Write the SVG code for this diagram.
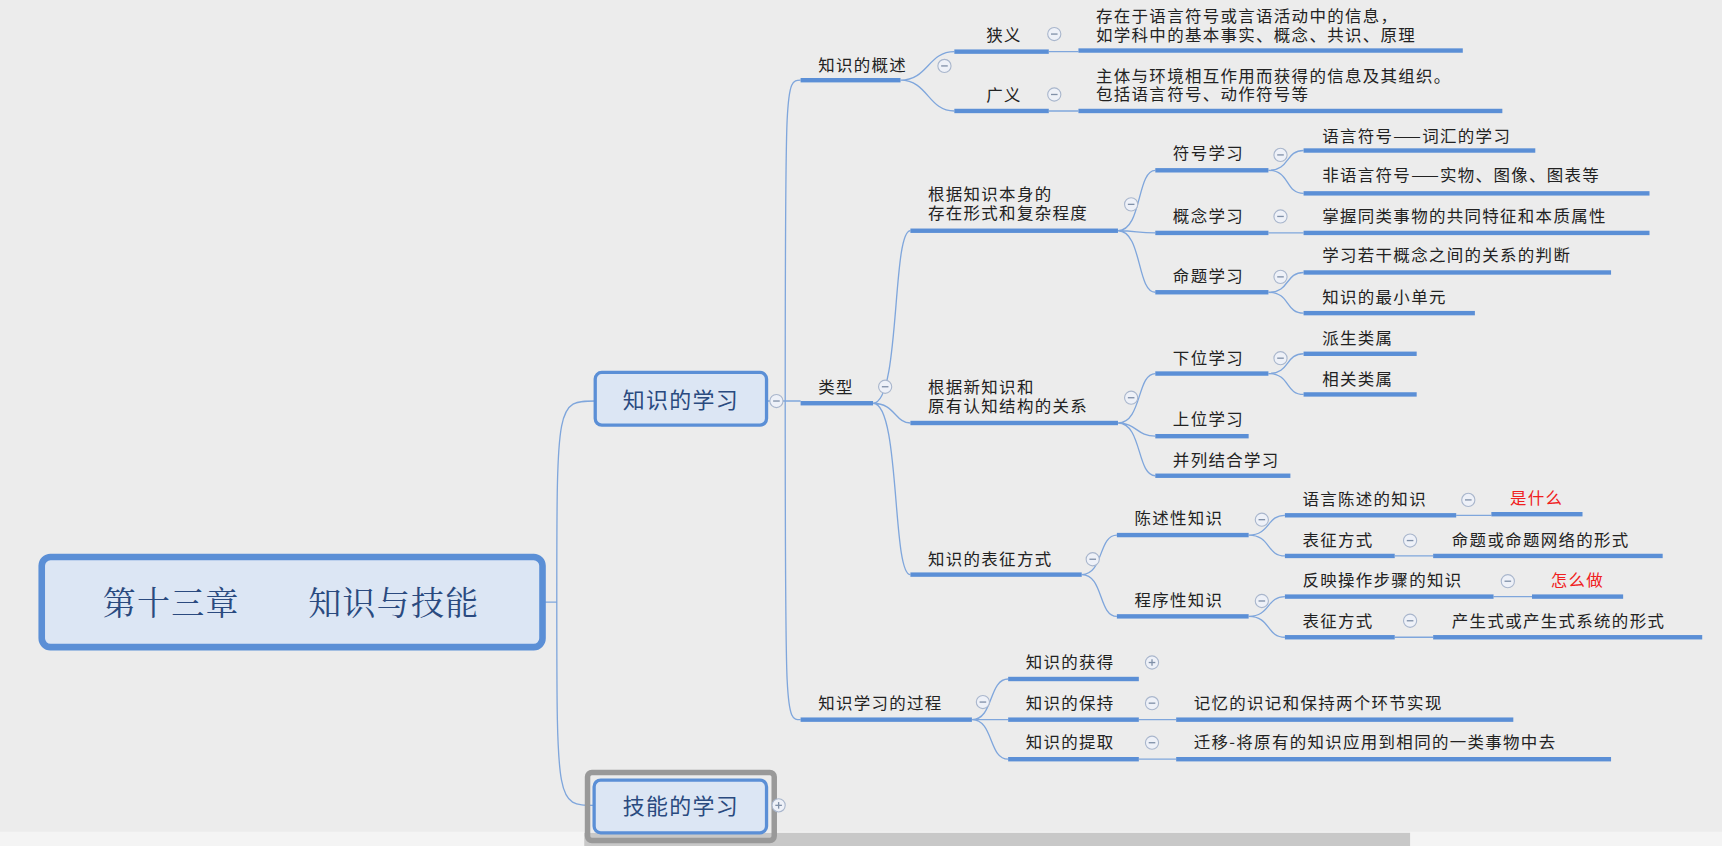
<svg xmlns="http://www.w3.org/2000/svg" width="1722" height="846" viewBox="0 0 1722 846">
<style>
text{font-family:"Noto Sans CJK SC","Liberation Sans",sans-serif;font-size:15px;fill:#222;letter-spacing:1.2px}
.u{fill:#5b8fd6}
.c{fill:none;stroke:#7fa6dc;stroke-width:1.2}
.red{fill:#f02020}
.btn circle{fill:#eef1f8;stroke:#a9b6cc;stroke-width:1}
.btn line{stroke:#8090a8;stroke-width:1.2}
.box{fill:#dce6f4;stroke:#5b8fd6}
.bt{font-size:20px;fill:#2a4a7f;text-anchor:middle}
</style>
<defs>
<g id="minus" class="btn"><circle r="6"/><line x1="-3" x2="3" y1="0" y2="0"/></g>
<g id="plus" class="btn"><circle r="6"/><line x1="-3" x2="3" y1="0" y2="0"/><line x1="0" x2="0" y1="-3" y2="3"/></g>
</defs>
<rect width="1722" height="846" fill="#ececec"/>
<g transform="scale(1.0982,1.0987)">
<rect x="0" y="757" width="1568" height="13" fill="#f4f4f4"/>
<rect x="532" y="758" width="752" height="12" fill="#c8c8c8"/>
<g id="connectors">
<path class="c" d="M494,548 H507 M507,548 C507,365 507,365 542,365 M507,548 C507,733 507,733 541,733"/>
<path class="c" d="M698,365 H715 M715,365 C715,73 715,73 729,73 M715,365 H729 M715,365 C715,655 715,655 729,655"/>
<path class="c" d="M820,73 C845,73 845,47 869,47 M820,73 C845,73 845,101 869,101 M955,47 H982 M955,101 H982"/>
<path class="c" d="M795,367 C820,367 812,210 829,210 M795,367 C815,367 815,385 829,385 M795,367 C820,367 812,523 829,523"/>
<path class="c" d="M1018,210 C1040,210 1035,155 1052,155 M1018,210 C1035,210 1035,212 1052,212 M1018,210 C1040,210 1035,266 1052,266"/>
<path class="c" d="M1155,155 C1175,155 1170,137 1187,137 M1155,155 C1175,155 1170,176 1187,176 M1155,212 H1187 M1155,266 C1175,266 1170,248 1187,248 M1155,266 C1175,266 1170,285 1187,285"/>
<path class="c" d="M1018,385 C1040,385 1035,340 1052,340 M1018,385 C1035,385 1035,397 1052,397 M1018,385 C1040,385 1035,433 1052,433"/>
<path class="c" d="M1155,340 C1175,340 1170,322 1187,322 M1155,340 C1175,340 1170,359 1187,359"/>
<path class="c" d="M985,523 C1005,523 1000,487 1017,487 M985,523 C1005,523 1000,561 1017,561"/>
<path class="c" d="M1137,487 C1157,487 1153,469 1170,469 M1137,487 C1157,487 1153,506 1170,506 M1326,469 H1358 M1270,506 H1305"/>
<path class="c" d="M1137,561 C1157,561 1153,543 1170,543 M1137,561 C1157,561 1153,580 1170,580 M1360,543 H1395 M1270,580 H1305"/>
<path class="c" d="M885,655 C905,655 900,618 918,618 M885,655 H918 M885,655 C905,655 900,691 918,691 M1037,655 H1071 M1037,691 H1071"/>
</g>
<g id="root"><rect class="box" x="38" y="507" width="456" height="82" rx="8" stroke-width="6"/><text x="265" y="560" style="font-size:30px;fill:#2a4a7f;text-anchor:middle;font-family:'Noto Serif CJK SC','Noto Sans CJK SC',serif">第十三章　　知识与技能</text></g>
<g id="zsdxx"><rect class="box" x="542" y="339" width="156" height="48" rx="6" stroke-width="3"/><text class="bt" x="620" y="371">知识的学习</text><use href="#minus" x="707" y="365"/></g>
<g id="jndxx"><rect x="535" y="703" width="170" height="62" rx="4" fill="none" stroke="#999" stroke-width="5"/><rect class="box" x="541" y="710" width="157" height="48" rx="6" stroke-width="3"/><text class="bt" x="620" y="741">技能的学习</text><use href="#plus" x="709" y="733"/></g>
<g id="gs"><rect class="u" x="729" y="71" width="91" height="4"/><text x="745" y="65">知识的概述</text><use href="#minus" x="860" y="60"/></g>
<g id="xy"><rect class="u" x="869" y="45" width="86" height="4"/><text x="898" y="37">狭义</text><use href="#minus" x="960" y="31"/></g>
<g id="xyd"><rect class="u" x="982" y="44" width="350" height="4"/><text x="998" y="20">存在于语言符号或言语活动中的信息，</text><text x="998" y="37">如学科中的基本事实、概念、共识、原理</text></g>
<g id="gy"><rect class="u" x="869" y="99" width="86" height="4"/><text x="898" y="92">广义</text><use href="#minus" x="960" y="86"/></g>
<g id="gyd"><rect class="u" x="982" y="99" width="386" height="4"/><text x="998" y="75">主体与环境相互作用而获得的信息及其组织。</text><text x="998" y="91">包括语言符号、动作符号等</text></g>
<g id="lx"><rect class="u" x="729" y="365" width="66" height="4"/><text x="745" y="358">类型</text><use href="#minus" x="806" y="352"/></g>
<g id="gj1"><rect class="u" x="829" y="208" width="189" height="4"/><text x="845" y="182">根据知识本身的</text><text x="845" y="199">存在形式和复杂程度</text><use href="#minus" x="1030" y="186"/></g>
<g id="fhxx"><rect class="u" x="1052" y="153" width="103" height="4"/><text x="1068" y="145">符号学习</text><use href="#minus" x="1166" y="141"/></g>
<g id="fh1"><rect class="u" x="1187" y="135" width="211" height="4"/><text x="1204" y="129">语言符号——词汇的学习</text></g>
<g id="fh2"><rect class="u" x="1187" y="174" width="315" height="4"/><text x="1204" y="165">非语言符号——实物、图像、图表等</text></g>
<g id="gnxx"><rect class="u" x="1052" y="210" width="103" height="4"/><text x="1068" y="202">概念学习</text><use href="#minus" x="1166" y="197"/></g>
<g id="gn1"><rect class="u" x="1187" y="210" width="315" height="4"/><text x="1204" y="202">掌握同类事物的共同特征和本质属性</text></g>
<g id="mtxx"><rect class="u" x="1052" y="264" width="103" height="4"/><text x="1068" y="257">命题学习</text><use href="#minus" x="1166" y="252"/></g>
<g id="mt1"><rect class="u" x="1187" y="246" width="280" height="4"/><text x="1204" y="238">学习若干概念之间的关系的判断</text></g>
<g id="mt2"><rect class="u" x="1187" y="283" width="156" height="4"/><text x="1204" y="276">知识的最小单元</text></g>
<g id="gj2"><rect class="u" x="829" y="383" width="189" height="4"/><text x="845" y="358">根据新知识和</text><text x="845" y="375">原有认知结构的关系</text><use href="#minus" x="1030" y="362"/></g>
<g id="xw"><rect class="u" x="1052" y="338" width="103" height="4"/><text x="1068" y="331">下位学习</text><use href="#minus" x="1166" y="326"/></g>
<g id="ps"><rect class="u" x="1187" y="320" width="103" height="4"/><text x="1204" y="313">派生类属</text></g>
<g id="xg"><rect class="u" x="1187" y="357" width="103" height="4"/><text x="1204" y="350">相关类属</text></g>
<g id="sw"><rect class="u" x="1052" y="395" width="85" height="4"/><text x="1068" y="387">上位学习</text></g>
<g id="bl"><rect class="u" x="1052" y="431" width="123" height="4"/><text x="1068" y="424">并列结合学习</text></g>
<g id="bz"><rect class="u" x="829" y="521" width="156" height="4"/><text x="845" y="514">知识的表征方式</text><use href="#minus" x="995" y="509"/></g>
<g id="cs"><rect class="u" x="1017" y="485" width="120" height="4"/><text x="1033" y="477">陈述性知识</text><use href="#minus" x="1149" y="473"/></g>
<g id="cs1"><rect class="u" x="1170" y="467" width="156" height="4"/><text x="1186" y="460">语言陈述的知识</text><use href="#minus" x="1337" y="455"/></g>
<g id="ssm"><rect class="u" x="1358" y="466" width="83" height="4"/><text class="red" x="1375" y="459">是什么</text></g>
<g id="cs2"><rect class="u" x="1170" y="504" width="100" height="4"/><text x="1186" y="497">表征方式</text><use href="#minus" x="1284" y="492"/></g>
<g id="cs2d"><rect class="u" x="1305" y="504" width="209" height="4"/><text x="1322" y="497">命题或命题网络的形式</text></g>
<g id="cx"><rect class="u" x="1017" y="559" width="120" height="4"/><text x="1033" y="552">程序性知识</text><use href="#minus" x="1149" y="547"/></g>
<g id="cx1"><rect class="u" x="1170" y="541" width="190" height="4"/><text x="1186" y="533">反映操作步骤的知识</text><use href="#minus" x="1373" y="529"/></g>
<g id="zmz"><rect class="u" x="1395" y="541" width="83" height="4"/><text class="red" x="1412" y="533">怎么做</text></g>
<g id="cx2"><rect class="u" x="1170" y="578" width="100" height="4"/><text x="1186" y="571">表征方式</text><use href="#minus" x="1284" y="565"/></g>
<g id="cx2d"><rect class="u" x="1305" y="578" width="245" height="4"/><text x="1322" y="571">产生式或产生式系统的形式</text></g>
<g id="gc"><rect class="u" x="729" y="653" width="156" height="4"/><text x="745" y="645">知识学习的过程</text><use href="#minus" x="895" y="639"/></g>
<g id="hd"><rect class="u" x="918" y="616" width="119" height="4"/><text x="934" y="608">知识的获得</text><use href="#plus" x="1049" y="603"/></g>
<g id="bc"><rect class="u" x="918" y="653" width="119" height="4"/><text x="934" y="645">知识的保持</text><use href="#minus" x="1049" y="640"/></g>
<g id="bcd"><rect class="u" x="1071" y="653" width="307" height="4"/><text x="1087" y="645">记忆的识记和保持两个环节实现</text></g>
<g id="tq"><rect class="u" x="918" y="689" width="119" height="4"/><text x="934" y="681">知识的提取</text><use href="#minus" x="1049" y="676"/></g>
<g id="tqd"><rect class="u" x="1071" y="689" width="396" height="4"/><text x="1087" y="681">迁移-将原有的知识应用到相同的一类事物中去</text></g>
</g>
</svg>
